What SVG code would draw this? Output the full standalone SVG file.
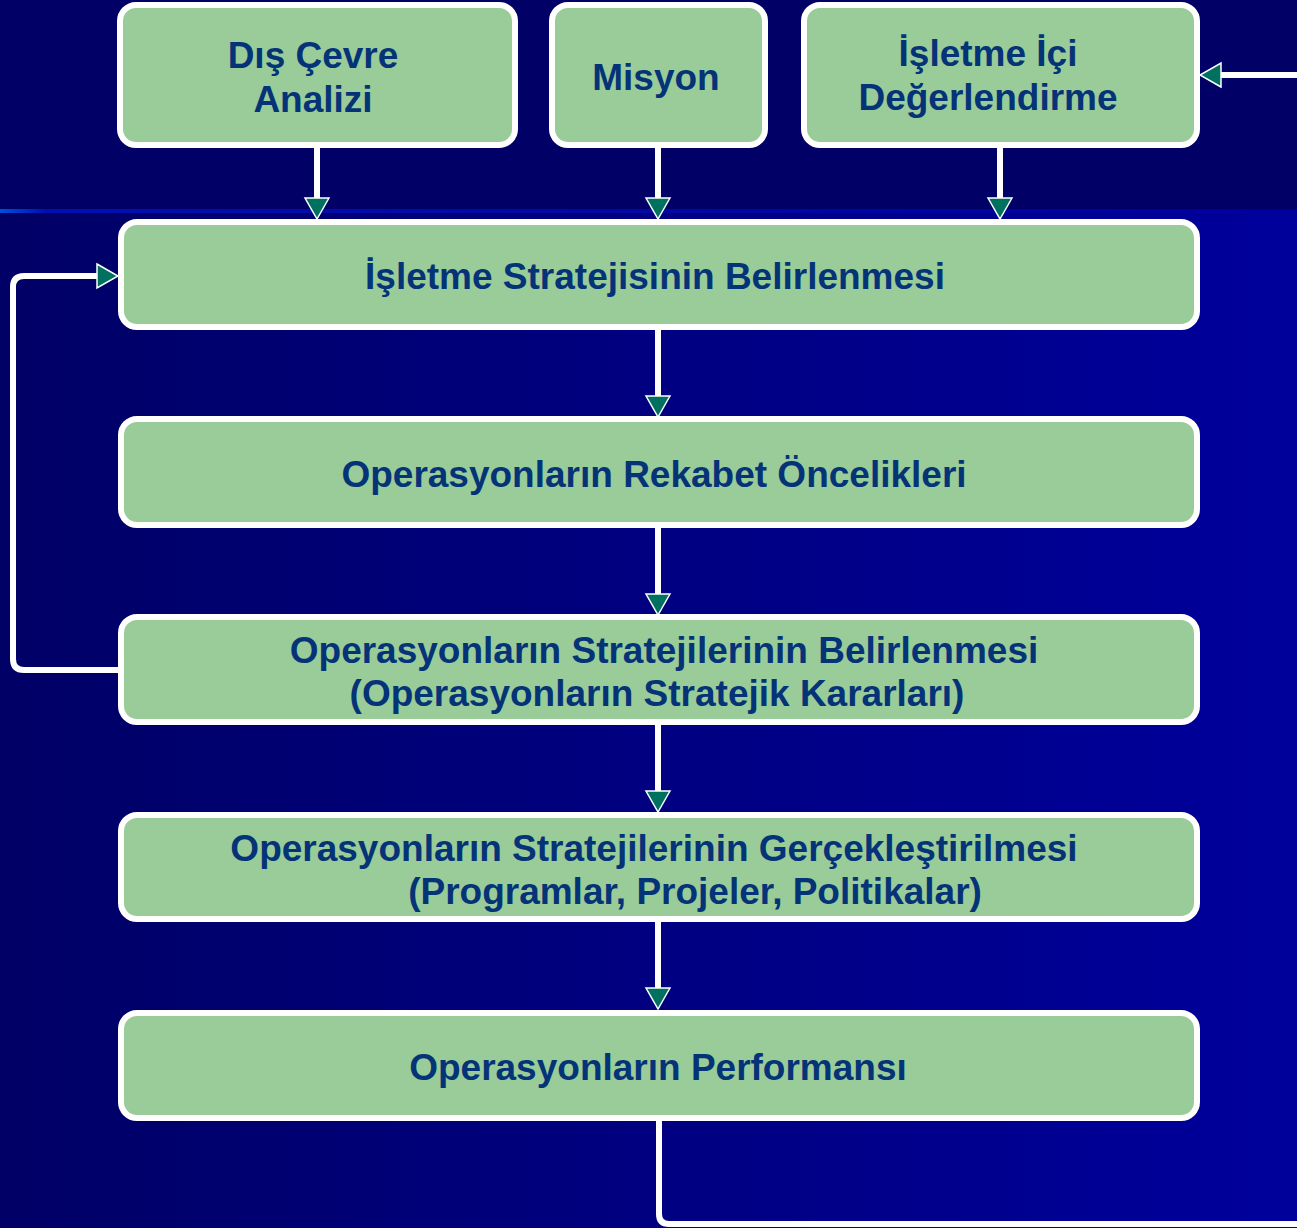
<svg xmlns="http://www.w3.org/2000/svg" width="1297" height="1228" viewBox="0 0 1297 1228">
  <defs>
    <linearGradient id="bgLower" x1="0" y1="0" x2="1" y2="0">
      <stop offset="0" stop-color="#000066"/>
      <stop offset="1" stop-color="#00009c"/>
    </linearGradient>
    <linearGradient id="rule" x1="0" y1="0" x2="1" y2="0">
      <stop offset="0" stop-color="#0050d8"/>
      <stop offset="0.035" stop-color="#0010b0"/>
      <stop offset="1" stop-color="#00009c"/>
    </linearGradient>
    <marker id="arrow" markerUnits="userSpaceOnUse" markerWidth="26" markerHeight="30" viewBox="-2 -15 26 30" refX="0" refY="0" orient="auto">
      <path d="M0,-12 L21,0 L0,12 Z" fill="#00705f" stroke="#ffffff" stroke-width="1.5" stroke-linejoin="miter"/>
    </marker>
    <style>
      .box { fill: #99cc99; stroke: #ffffff; stroke-width: 6; }
      .lbl { font-family: "Liberation Sans", Arial, sans-serif; font-weight: bold; font-size: 37px; fill: #053377; text-anchor: middle; }
      .wire { fill: none; stroke: #ffffff; stroke-width: 6; marker-end: url(#arrow); }
      .wire-plain { fill: none; stroke: #ffffff; stroke-width: 6; }
    </style>
  </defs>

  <!-- backdrop -->
  <rect x="0" y="0" width="1297" height="1228" fill="url(#bgLower)"/>
  <rect x="0" y="0" width="1297" height="210" fill="#000066"/>
  <rect x="0" y="209" width="1297" height="4" fill="url(#rule)"/>

  <!-- connectors -->
  <g id="connectors">
    <path class="wire" d="M317,148 V198"/>
    <path class="wire" d="M658,148 V198"/>
    <path class="wire" d="M1000,148 V198"/>
    <path class="wire" d="M658,330 V396"/>
    <path class="wire" d="M658,528 V594"/>
    <path class="wire" d="M658,725 V791"/>
    <path class="wire" d="M658,922 V988"/>
    <!-- feedback from operations strategy back to business strategy -->
    <path class="wire" d="M118,670 H24 Q13,670 13,659 V287 Q13,276 24,276 H97"/>
    <!-- feedback from performance back to internal assessment -->
    <path class="wire-plain" d="M659,1121 V1214 Q659,1224 669,1224 H1300"/>
    <path class="wire" d="M1300,75 H1221"/>
  </g>

  <g id="dis-cevre">
    <rect class="box" x="120" y="5" width="395" height="140" rx="16"/>
    <text class="lbl" x="313" y="68">Dış Çevre</text>
    <text class="lbl" x="313" y="112">Analizi</text>
  </g>

  <g id="misyon">
    <rect class="box" x="552" y="5" width="213" height="140" rx="16"/>
    <text class="lbl" x="656" y="90">Misyon</text>
  </g>

  <g id="isletme-ici">
    <rect class="box" x="804" y="5" width="393" height="140" rx="16"/>
    <text class="lbl" x="988" y="66">İşletme İçi</text>
    <text class="lbl" x="988" y="110">Değerlendirme</text>
  </g>

  <g id="isletme-stratejisi">
    <rect class="box" x="121" y="222" width="1076" height="105" rx="16"/>
    <text class="lbl" x="655" y="289">İşletme Stratejisinin Belirlenmesi</text>
  </g>

  <g id="rekabet-oncelikleri">
    <rect class="box" x="121" y="419" width="1076" height="106" rx="16"/>
    <text class="lbl" x="654" y="487">Operasyonların Rekabet Öncelikleri</text>
  </g>

  <g id="operasyon-stratejileri">
    <rect class="box" x="121" y="617" width="1076" height="105" rx="16"/>
    <text class="lbl" x="664" y="663">Operasyonların Stratejilerinin Belirlenmesi</text>
    <text class="lbl" x="657" y="706">(Operasyonların Stratejik Kararları)</text>
  </g>

  <g id="gerceklestirme">
    <rect class="box" x="121" y="815" width="1076" height="104" rx="16"/>
    <text class="lbl" x="654" y="861">Operasyonların Stratejilerinin Gerçekleştirilmesi</text>
    <text class="lbl" x="695" y="904">(Programlar, Projeler, Politikalar)</text>
  </g>

  <g id="performans">
    <rect class="box" x="121" y="1013" width="1076" height="105" rx="16"/>
    <text class="lbl" x="658" y="1080">Operasyonların Performansı</text>
  </g>
</svg>
